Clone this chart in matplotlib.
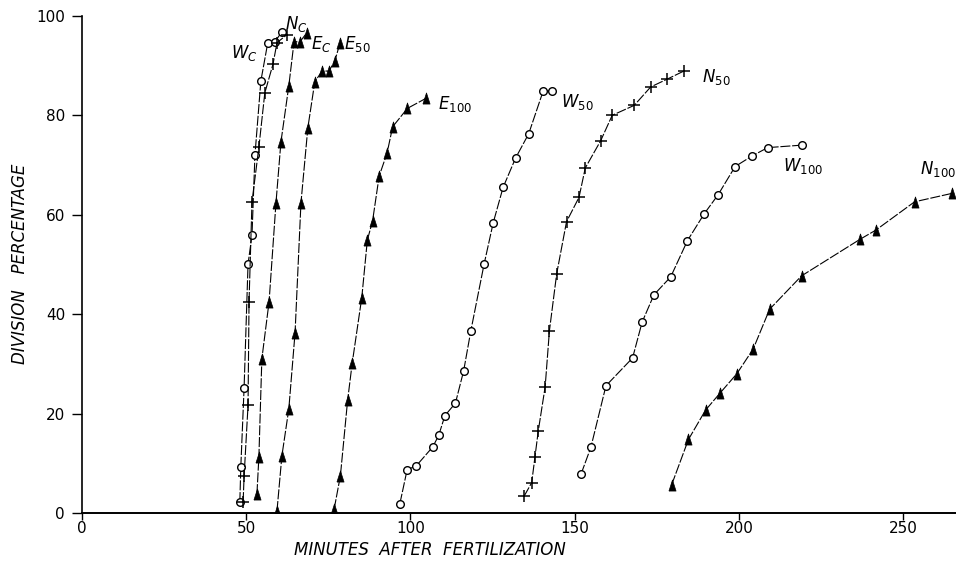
import matplotlib.pyplot as plt

# curve data (minutes, division percentage)
wc_x = [48.1, 48.4, 49.4, 50.6, 51.8, 52.7, 54.5, 56.6, 58.8, 60.9]
wc_y = [2.2, 9.3, 25.2, 50.1, 55.9, 72.0, 86.9, 94.6, 94.8, 96.8]

nc_x = [49.1, 49.4, 50.6, 50.9, 51.8, 53.9, 55.7, 58.2, 59.4, 62.4]
nc_y = [2.2, 7.4, 21.7, 42.5, 62.6, 73.6, 84.5, 90.3, 94.6, 96.2]

ec_x = [53.3, 53.9, 54.8, 57.0, 59.1, 60.6, 63.0, 64.6, 66.4, 68.5]
ec_y = [3.8, 11.3, 31.0, 42.5, 62.4, 74.6, 85.9, 94.8, 94.8, 96.6]

e50_x = [59.4, 60.9, 63.0, 64.9, 66.7, 68.8, 70.9, 73.1, 75.2, 77.0, 78.6]
e50_y = [0.4, 11.5, 20.9, 36.2, 62.4, 77.5, 86.7, 88.9, 88.9, 90.9, 94.6]

e100_x = [76.8, 78.7, 80.9, 82.3, 85.2, 86.9, 88.5, 90.5, 92.9, 94.6, 99.1, 104.7]
e100_y = [0.8, 7.5, 22.7, 30.2, 43.3, 54.9, 58.8, 67.8, 72.4, 77.7, 81.4, 83.4]

w50_x = [96.8, 99.0, 101.8, 106.8, 108.6, 110.5, 113.7, 116.2, 118.4, 122.4,
         125.2, 128.2, 132.0, 136.0, 140.4, 143.2]
w50_y = [1.9, 8.7, 9.5, 13.3, 15.6, 19.6, 22.1, 28.6, 36.7, 50.0,
         58.4, 65.5, 71.4, 76.3, 84.9, 84.9]

n50_x = [134.6, 136.9, 137.9, 138.9, 141.0, 142.3, 144.5, 147.5, 151.3, 153.2,
         157.9, 161.4, 168.1, 173.1, 178.2, 183.2]
n50_y = [3.4, 6.1, 11.3, 16.5, 25.4, 36.7, 48.1, 58.6, 63.5, 69.4,
         74.9, 80.0, 82.0, 85.7, 87.3, 88.9]

w100_x = [151.9, 154.9, 159.5, 167.6, 170.5, 174.1, 179.2, 184.3, 189.4, 193.6,
          198.8, 203.9, 208.7, 219.1]
w100_y = [7.8, 13.2, 25.6, 31.2, 38.4, 43.9, 47.5, 54.8, 60.2, 64.0,
          69.7, 71.8, 73.5, 74.0]

n100_x = [179.5, 184.6, 189.8, 194.3, 199.3, 204.3, 209.3, 219.0, 236.9, 241.6, 253.4, 264.8]
n100_y = [5.7, 14.8, 20.7, 24.2, 28.0, 33.0, 41.0, 47.7, 55.1, 56.9, 62.6, 64.3]

# curve labels: text, x, y
labels = [
    ("W$_C$", 49.5, 92.6),
    ("N$_C$", 65.2, 98.4),
    ("E$_C$", 72.8, 94.4),
    ("E$_{50}$", 84.0, 94.4),
    ("E$_{100}$", 113.6, 82.3),
    ("W$_{50}$", 150.9, 82.7),
    ("N$_{50}$", 193.0, 87.7),
    ("W$_{100}$", 219.4, 69.8),
    ("N$_{100}$", 260.4, 69.2),
]

x_ticks = [0, 50, 100, 150, 200, 250]
y_ticks = [0, 20, 40, 60, 80, 100]

# narrow filled "bullet" triangle used in the original
tri = [(-0.32, -0.5), (0.32, -0.5), (0.0, 0.5), (-0.32, -0.5)]

fig = plt.figure(figsize=(9.56, 5.67), dpi=100)
ax = fig.add_axes([0.0855, 0.0952, 0.9145, 0.8768])

line_kw = dict(color='black', linewidth=0.8, dashes=(9, 1.6))
circ = dict(marker='o', markersize=5.5, markerfacecolor='white',
            markeredgecolor='black', markeredgewidth=1.0)
plus = dict(marker='+', markersize=8, markeredgecolor='black', markeredgewidth=1.1)
trim = dict(marker=tri, markersize=8, markerfacecolor='black',
            markeredgecolor='black', markeredgewidth=0.5)

ax.plot(wc_x, wc_y, **line_kw, **circ)
ax.plot(nc_x, nc_y, **line_kw, **plus)
ax.plot(ec_x, ec_y, **line_kw, **trim)
ax.plot(e50_x, e50_y, **line_kw, **trim)
ax.plot(e100_x, e100_y, **line_kw, **trim)
ax.plot(w50_x, w50_y, **line_kw, **circ)
ax.plot(n50_x, n50_y, **line_kw, **plus)
ax.plot(w100_x, w100_y, **line_kw, **circ)
ax.plot(n100_x, n100_y, **line_kw, **trim, clip_on=False)

for txt, x, y in labels:
    ax.text(x, y, txt, fontsize=12, style='italic', ha='center', va='center')

ax.set_xlim(0, 266)
ax.set_ylim(0, 100)
ax.set_xticks(x_ticks)
ax.set_yticks(y_ticks)
ax.tick_params(axis='y', direction='out', length=7, width=1.0, labelsize=11, pad=5)
ax.tick_params(axis='x', direction='out', length=5, width=1.0, labelsize=11, pad=1)
for s in ['top', 'right']:
    ax.spines[s].set_visible(False)
ax.spines['left'].set_linewidth(1.2)
ax.spines['bottom'].set_linewidth(1.4)

fig.text(0.021, 0.534, "DIVISION   PERCENTAGE", rotation=90, style='italic',
         fontsize=12, ha='center', va='center')
fig.text(0.45, 0.030, "MINUTES  AFTER  FERTILIZATION", style='italic',
         fontsize=12, ha='center', va='center')

fig.savefig('out.png', dpi=100)
